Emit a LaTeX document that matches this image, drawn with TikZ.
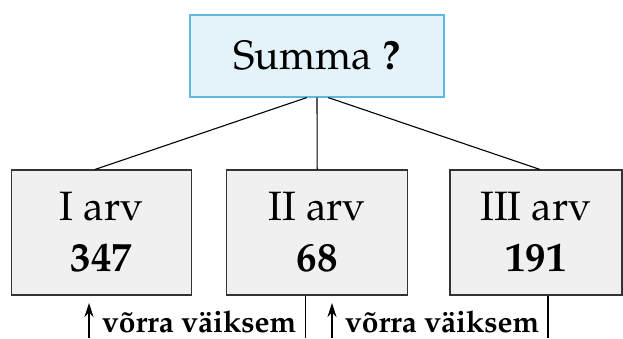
\documentclass[tikz,border=0pt]{standalone}
\usepackage[T1]{fontenc}
\usepackage{mathpazo}
\usetikzlibrary{calc,arrows.meta}
\definecolor{topfill}{HTML}{E4F2F9}
\definecolor{topdraw}{HTML}{5DB9E0}
\definecolor{boxfill}{HTML}{F0F0F0}
\definecolor{boxdraw}{HTML}{333333}
\tikzset{
  topbox/.style={draw=topdraw, fill=topfill, line width=1.2pt, minimum width=254pt, minimum height=82pt, inner sep=0pt,
    font=\fontsize{41}{49}\selectfont},
  arvbox/.style={draw=boxdraw, fill=boxfill, line width=1.1pt, minimum height=125pt, inner sep=0pt, align=center,
    font=\fontsize{41}{51}\selectfont},
  conn/.style={line width=1.1pt, black},
  uparrow/.style={line width=1.2pt, -{Stealth[length=14pt,width=9pt]}},
  difflabel/.style={font=\fontsize{30}{36}\selectfont\bfseries, inner sep=0pt, anchor=base west}
}
\begin{document}
\begin{tikzpicture}[x=1pt,y=-1pt]
\useasboundingbox (0,0) rectangle (623,338);
\node[topbox] (top) at (317,56) {Summa \textbf{?}};
\node[arvbox, minimum width=180pt] (b1) at (101.7,232.5) {I arv\\\textbf{347}};
\node[arvbox, minimum width=181pt] (b2) at (317.2,232.5) {II arv\\\textbf{68}};
\node[arvbox, minimum width=172pt] (b3) at (536,232.5) {III arv\\\textbf{191}};
\draw[conn] ($(top.south)+(-10.3,0)$) -- ($(b1.north)+(-6.7,0)$);
\draw[conn] (top.south) -- (b2.north);
\draw[conn] ($(top.south)+(11.3,0)$) -- ($(b3.north)+(4,0)$);
\coordinate (e2) at ($(b2.south)+(-11.7,0)$);
\coordinate (e3) at ($(b3.south)+(12,0)$);
\coordinate (f2) at (e2 |- 0,338);
\coordinate (f3) at (e3 |- 0,338);
\draw[conn] (e2) -- (f2);
\draw[conn] (e3) -- (f3);
\coordinate (a1s) at (89,338);
\coordinate (a1e) at (89,303);
\coordinate (a2s) at (332,338);
\coordinate (a2e) at (332,303);
\draw[uparrow] (a1s) -- (a1e);
\draw[uparrow] (a2s) -- (a2e);
\node[difflabel] (d1) at (102,332) {v\~orra v\"aiksem};
\node[difflabel] (d2) at (345,332) {v\~orra v\"aiksem};
\end{tikzpicture}
\end{document}
